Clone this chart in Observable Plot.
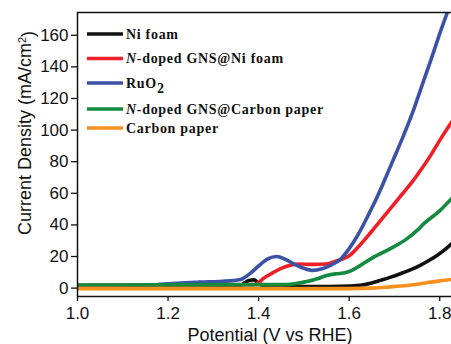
<!DOCTYPE html>
<html>
<head>
<meta charset="utf-8">
<script src="https://cdn.jsdelivr.net/npm/d3@7"></script>
<script src="https://cdn.jsdelivr.net/npm/@observablehq/plot@0.6"></script>
<style>
  html, body { margin: 0; padding: 0; background: #fff; }
  #chart svg { display: block; }
</style>
</head>
<body>
<div id="chart"></div>
<script>
// ---- data ----
const seriesNames = ["Ni foam", "N-doped GNS@Ni foam", "RuO2", "N-doped GNS@Carbon paper", "Carbon paper"];
const seriesColors = ["#111111", "#ee1f26", "#3b52a5", "#138a3e", "#f7901e"];

const niFoamV = [1.0, 1.36, 1.37, 1.38, 1.39, 1.40, 1.41, 1.50, 1.58, 1.625, 1.65, 1.669, 1.69, 1.713, 1.735, 1.757, 1.775, 1.794, 1.81, 1.826];
const niFoamJ = [1.2, 1.5, 3.5, 5.0, 5.2, 3.0, 1.5, 1.0, 1.1, 1.8, 3.2, 4.9, 6.8, 9.1, 11.5, 14.4, 17.3, 20.7, 24, 28];

const nGnsNiV = [1.0, 1.39, 1.40, 1.41, 1.43, 1.45, 1.47, 1.49, 1.52, 1.55, 1.57, 1.59, 1.60, 1.62, 1.65, 1.68, 1.70, 1.72, 1.74, 1.76, 1.78, 1.80, 1.826];
const nGnsNiJ = [1.8, 2.2, 3.5, 6, 9.5, 12.5, 14.5, 15.3, 15, 15.3, 17, 19, 20.5, 26, 36, 46.5, 53.5, 60.5, 67.5, 75.5, 84, 93.5, 105];

const ruo2V = [1.18, 1.22, 1.27, 1.32, 1.36, 1.38, 1.40, 1.42, 1.44, 1.46, 1.48, 1.50, 1.52, 1.54, 1.56, 1.58, 1.60, 1.62, 1.64, 1.66, 1.68, 1.70, 1.72, 1.74, 1.76, 1.78, 1.80, 1.82];
const ruo2J = [2.4, 3.0, 3.8, 4.3, 5.5, 9, 14, 18.5, 20, 18, 15, 12.5, 11.2, 12.3, 14.6, 18, 25, 34, 45, 56.5, 69.5, 83, 96.5, 111, 127.5, 144, 161, 177];

const nGnsCpV = [1.0, 1.45, 1.48, 1.50, 1.53, 1.55, 1.57, 1.58, 1.60, 1.625, 1.654, 1.691, 1.728, 1.75, 1.765, 1.801, 1.826];
const nGnsCpJ = [2.0, 2.2, 2.8, 3.8, 5.9, 8, 9, 9.2, 10.5, 14.4, 19.6, 25, 31.3, 36.5, 40.8, 49.2, 56.6];

const carbonV = [1.0, 1.60, 1.65, 1.69, 1.728, 1.755, 1.78, 1.80, 1.826];
const carbonJ = [-0.3, -0.3, 0, 0.8, 1.7, 2.6, 3.8, 4.6, 5.5];

const xTicks = [1.0, 1.2, 1.4, 1.6, 1.8];
const yTicks = [0, 20, 40, 60, 80, 100, 120, 140, 160];
const xDomain = [1.0, 1.826];
const yDomain = [-5.3, 174.4];

const rawSeries = [
  [niFoamV, niFoamJ], [nGnsNiV, nGnsNiJ], [ruo2V, ruo2J], [nGnsCpV, nGnsCpJ], [carbonV, carbonJ]
];
const rows = rawSeries.flatMap(([vs, js], i) => vs.map((v, k) => ({series: seriesNames[i], v, j: js[k]})));

const chart = Plot.plot({
  width: 451,
  height: 344,
  marginLeft: 77,
  marginRight: 0,
  marginTop: 12,
  marginBottom: 48,
  style: {fontFamily: "'Liberation Sans', Arial, sans-serif", fontSize: "17px", color: "#111", background: "#fff", overflow: "visible"},
  x: {domain: xDomain, ticks: xTicks, tickFormat: d3.format(".1f"), tickSize: 5, tickPadding: 5, label: null},
  y: {domain: yDomain, ticks: yTicks, tickSize: 6, tickPadding: 3, label: null},
  color: {domain: seriesNames, range: seriesColors},
  marks: [
    Plot.line(rows, {x: "v", y: "j", z: "series", stroke: "series", strokeWidth: 3.6, curve: "monotone-x", clip: true}),
    Plot.ruleX([xDomain[0]], {stroke: "#111", strokeWidth: 1.5}),
    Plot.ruleY([yDomain[0], yDomain[1]], {stroke: "#111", strokeWidth: 1.5})
  ]
});

document.getElementById("chart").appendChild(chart);

const svg = d3.select(chart);
svg.selectAll("g[aria-label='x-axis tick'], g[aria-label='y-axis tick']").attr("stroke-width", 1.3);

// axis titles
svg.append("text")
  .attr("x", 270).attr("y", 341)
  .attr("text-anchor", "middle")
  .style("font-family", "'Liberation Sans', Arial, sans-serif")
  .style("font-size", "18px").attr("fill", "#111")
  .text("Potential (V vs RHE)");

const yl = svg.append("text")
  .attr("transform", "translate(31,133) rotate(-90)")
  .attr("text-anchor", "middle")
  .style("font-family", "'Liberation Sans', Arial, sans-serif")
  .style("font-size", "18px").attr("fill", "#111");
yl.append("tspan").text("Current Density (mA/cm");
yl.append("tspan").attr("dy", "-0.45em").style("font-size", "11px").text("2");
yl.append("tspan").attr("dy", "0.45em").text(")");

// legend
const legendY = [34, 58.5, 83, 109, 128];
const lg = svg.append("g")
  .attr("text-anchor", "start")
  .style("font-family", "'Liberation Serif', 'Times New Roman', serif")
  .style("font-size", "14px").style("font-weight", "bold").style("letter-spacing", "0.7px");
seriesNames.forEach((name, i) => {
  const y = legendY[i];
  lg.append("line").attr("x1", 87).attr("x2", 123).attr("y1", y).attr("y2", y)
    .attr("stroke", seriesColors[i]).attr("stroke-width", 3.6);
  const t = lg.append("text").attr("x", 126).attr("y", y + 4.5).attr("fill", "#111").attr("text-anchor", "start");
  if (name.startsWith("N-")) {
    t.append("tspan").style("font-style", "italic").text("N");
    t.append("tspan").text(name.slice(1));
  } else if (name === "RuO2") {
    t.append("tspan").text("RuO");
    t.append("tspan").attr("dy", 5).text("2");
  } else {
    t.text(name);
  }
});
</script>
</body>
</html>
